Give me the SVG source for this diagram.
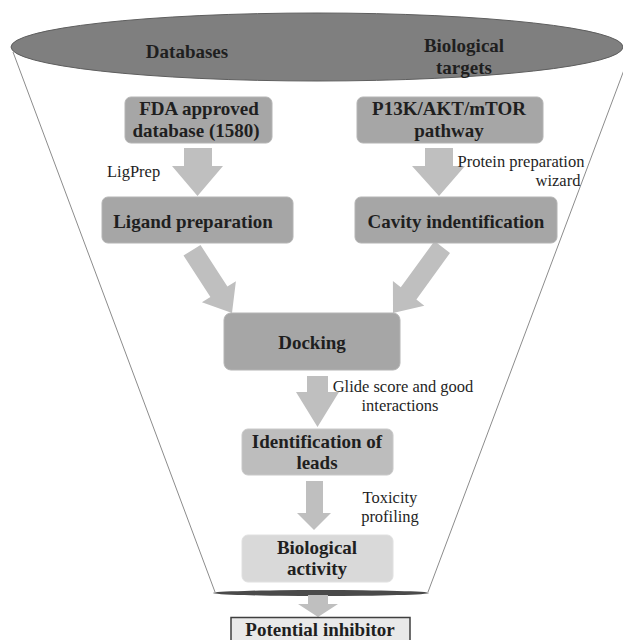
<svg xmlns="http://www.w3.org/2000/svg" width="623" height="640" viewBox="0 0 623 640">
<style>
.box{fill:#a6a6a6;stroke:#b4b4b4;stroke-width:1}
.lt{fill:#bdbdbd;stroke:#c8c8c8;stroke-width:1}
.lt2{fill:#d9d9d9;stroke:#e0e0e0;stroke-width:1}
.b{font-family:"Liberation Serif","Times New Roman",Times,serif;font-weight:700;font-size:19px;fill:#1f1f1f;text-anchor:middle}
.r{font-family:"Liberation Serif","Times New Roman",Times,serif;font-size:16.5px;fill:#1f1f1f}
.arr{fill:#bfbfbf}
.fun{stroke:#8c8c8c;stroke-width:1;fill:none}
</style>
<g id="funnel">
<line class="fun" x1="13" y1="52" x2="215" y2="592"/>
<line class="fun" x1="627" y1="62" x2="428" y2="592"/>
<ellipse cx="317" cy="47" rx="306" ry="34" fill="#7f7f7f" stroke="#5e5e5e" stroke-width="1"/>
<ellipse cx="321" cy="593" rx="108" ry="3" fill="#4a4a4a"/>
<text class="b" x="187" y="58">Databases</text>
<text class="b" x="464" y="52">Biological</text>
<text class="b" x="464" y="74">targets</text>
</g>
<g id="connectors">
<polygon class="arr" points="184,148 212,148 212,166 223,166 197.5,196 172,166 184,166"/>
<polygon class="arr" points="425,148 453,148 453,166 465,166 439,196 412,166 425,166"/>
<polygon class="arr" points="200.5,245 183.5,255.5 210.4,296.9 201.9,302.2 232,313 235.9,281.2 227.4,286.5"/>
<polygon class="arr" points="450,253 434.5,241 400.8,287.2 392.9,281 393,313 424.3,305.8 416.4,299.6"/>
<polygon class="arr" points="307,376 328,376 328,392 339,392 317.5,427 296,392 307,392"/>
<polygon class="arr" points="306,481 323,481 323,513 331,513 314,530 297,513 306,513"/>
<polygon class="arr" points="308,595 328,595 328,604 338,604 318,617 298,604 308,604"/>
</g>
<g id="fda">
<rect class="box" x="125" y="97" width="147" height="46" rx="6"/>
<text class="b" x="199" y="115">FDA approved</text>
<text class="b" x="196" y="137">database (1580)</text>
</g>
<g id="pathway">
<rect class="box" x="357" y="97" width="186" height="46" rx="6"/>
<text class="b" x="449" y="115">P13K/AKT/mTOR</text>
<text class="b" x="449" y="137">pathway</text>
</g>
<g id="ligprep-label"><text class="r" x="107" y="177">LigPrep</text></g>
<g id="ppw-label">
<text class="r" x="521" y="167" text-anchor="middle">Protein preparation</text>
<text class="r" x="558" y="186" text-anchor="middle">wizard</text>
</g>
<g id="ligand">
<rect class="box" x="102" y="197" width="191" height="46" rx="6"/>
<text class="b" x="193" y="228">Ligand preparation</text>
</g>
<g id="cavity">
<rect class="box" x="355" y="197" width="202" height="46" rx="6"/>
<text class="b" x="456" y="228">Cavity indentification</text>
</g>
<g id="docking">
<rect class="box" x="224" y="313" width="176" height="57" rx="7"/>
<text class="b" x="312" y="349">Docking</text>
</g>
<g id="glide-label">
<text class="r" x="403" y="392" text-anchor="middle">Glide score and good</text>
<text class="r" x="400" y="411" text-anchor="middle">interactions</text>
</g>
<g id="leads">
<rect class="lt" x="242" y="429" width="151" height="46" rx="6"/>
<text class="b" x="317" y="448">Identification of</text>
<text class="b" x="317" y="469">leads</text>
</g>
<g id="tox-label">
<text class="r" x="390" y="503" text-anchor="middle">Toxicity</text>
<text class="r" x="390" y="522" text-anchor="middle">profiling</text>
</g>
<g id="bioactivity">
<rect class="lt2" x="242" y="535" width="151" height="47" rx="6"/>
<text class="b" x="317" y="554">Biological</text>
<text class="b" x="317" y="575">activity</text>
</g>
<g id="inhibitor">
<rect x="231" y="617.5" width="179" height="30" fill="#e9e9e9" stroke="#3f3f3f" stroke-width="1.5"/>
<text class="b" x="320" y="636">Potential inhibitor</text>
</g>
</svg>
